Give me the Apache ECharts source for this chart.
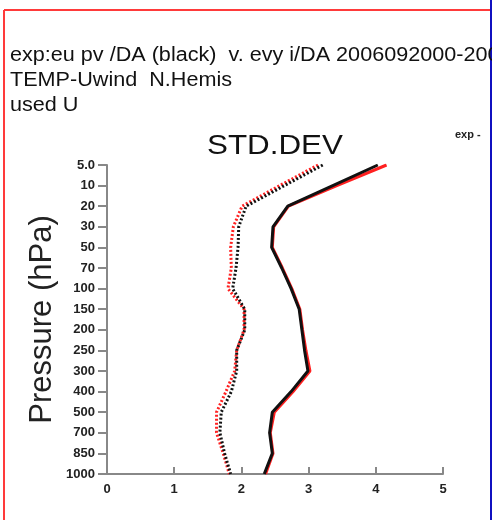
<!DOCTYPE html>
<html><head><meta charset="utf-8">
<script src="https://cdn.jsdelivr.net/npm/echarts@6/dist/echarts.min.js"></script>
<style>html,body{margin:0;padding:0;background:#fff}#c{width:492px;height:520px}</style>
</head><body><div id="c"></div>
<script>
const levels = ['5.0','10','20','30','50','70','100','150','200','250','300','400','500','700','850','1000'];
const xTicks = [0,1,2,3,4,5];
const expSolid  = [4.03,3.36,2.69,2.47,2.45,2.60,2.74,2.86,2.90,2.94,2.99,2.74,2.46,2.42,2.46,2.34];
const refSolid  = [4.16,3.42,2.70,2.48,2.46,2.61,2.75,2.87,2.91,2.96,3.02,2.77,2.49,2.43,2.47,2.36];
const expDotted = [3.21,2.64,2.07,1.96,1.95,1.92,1.87,2.05,2.05,1.93,1.93,1.85,1.70,1.68,1.75,1.84];
const refDotted = [3.14,2.57,2.01,1.88,1.84,1.85,1.80,2.04,2.04,1.93,1.90,1.77,1.63,1.63,1.73,1.82];
const headerLines = ['exp:eu pv /DA (black)  v. evy i/DA 2006092000-2006100100','TEMP-Uwind  N.Hemis','used U'];

const chart = echarts.init(document.getElementById('c'), null, {renderer:'canvas'});
const axisGray = '#888';
const mk = (name, data, color, dotted, z) => ({
  name, type:'line', data, symbol:'none', z,
  lineStyle:{color, width:3, type: dotted?[2,2]:'solid'},
  animation:false
});
chart.setOption({
  backgroundColor:'#fff',
  animation:false,
  grid:{left:107, top:165, width:336, height:309},
  xAxis:{type:'value', min:0, max:5, interval:1,
    axisLine:{show:true, lineStyle:{color:axisGray, width:2}},
    axisTick:{show:true, inside:true, length:7, lineStyle:{color:axisGray, width:2}},
    splitLine:{show:false},
    axisLabel:{color:'#222', fontFamily:'Liberation Sans', fontWeight:'bold', fontSize:13, margin:9,
      formatter:v=> xTicks.includes(v)? String(v):''}},
  yAxis:{type:'category', data:levels, inverse:true, boundaryGap:false,
    name:'Pressure (hPa)', nameLocation:'middle', nameGap:49, nameRotate:90, nameMoveOverlap:false,
    nameTextStyle:{fontFamily:'Liberation Sans', fontSize:31, color:'#222'},
    axisLine:{show:true, lineStyle:{color:axisGray, width:2}},
    axisTick:{show:true, length:9, alignWithLabel:true, lineStyle:{color:axisGray, width:2}},
    axisLabel:{color:'#222', fontFamily:'Liberation Sans', fontWeight:'bold', fontSize:13, margin:12, interval:0},
    splitLine:{show:false}},
  series:[
    mk('ref dotted', refDotted, '#ff2020', true, 2),
    mk('exp dotted', expDotted, '#111', true, 3),
    mk('ref solid', refSolid, '#ff2020', false, 2),
    mk('exp solid', expSolid, '#111', false, 3)
  ],
  graphic:[
    {type:'line', shape:{x1:4, y1:10, x2:492, y2:10}, style:{stroke:'#ff3a3a', lineWidth:2}},
    {type:'line', shape:{x1:4, y1:10, x2:4, y2:520}, style:{stroke:'#ff3a3a', lineWidth:2}},
    {type:'line', shape:{x1:491, y1:0, x2:491, y2:520}, style:{stroke:'#1010c0', lineWidth:2}},
    ...headerLines.map((t,i)=>({type:'text', x:10, y:55+i*25, scaleX:1.08,
      style:{text:t, font:'20px "Liberation Sans"', fill:'#111', verticalAlign:'middle'}})),
    {type:'text', x:275, y:146, scaleX:1.12,
      style:{text:'STD.DEV', font:'28px "Liberation Sans"', fill:'#111', align:'center', verticalAlign:'middle'}},
    {type:'text', x:455, y:135, style:{text:'exp -', font:'bold 11px "Liberation Sans"', fill:'#222', verticalAlign:'middle'}}
  ]
});
</script></body></html>
